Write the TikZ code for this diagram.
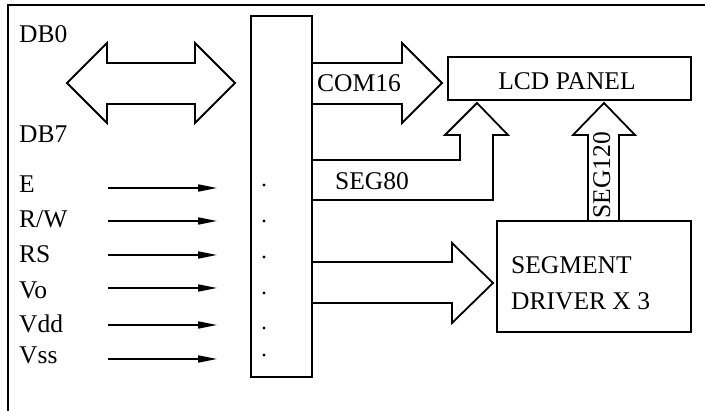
\documentclass[tikz,border=0pt]{standalone}
\usepackage{fontspec}
\setmainfont{Liberation Serif}
\usetikzlibrary{arrows.meta}
\tikzset{
  box/.style={draw, line width=1.8pt, inner sep=0pt},
  bigarrow/.style={draw, line width=1.8pt, line join=miter},
  pinarrow/.style={-{Triangle[length=19pt, width=7pt]}, line width=1.6pt},
  lbl/.style={anchor=base west, inner sep=0pt},
}

\begin{document}
\begin{tikzpicture}[x=1pt, y=-1pt, font=\fontsize{25.5}{36}\selectfont]
  \useasboundingbox (0,0) rectangle (705,411);
  \draw[line width=1.6pt] (8,420) -- (8,5) -- (715,5);

  % blocks
  \node[box, minimum width=61pt, minimum height=361pt] (ctrl) at (281.5,196.5) {};
  \node[box, minimum width=243pt, minimum height=43pt] (lcd) at (569.5,78.5) {};
  \node[lbl, anchor=base] (lcdtxt) at (567,90) {LCD PANEL};
  \node[box, minimum width=194pt, minimum height=111pt] (drv) at (594,276.5) {};
  \node[lbl] (drvA) at (511,274) {SEGMENT};
  \node[lbl] (drvB) at (511,310) {DRIVER X 3};

  % data bus
  \node[lbl] (db0) at (19,43) {DB0};
  \node[lbl] (db7) at (19,143) {DB7};
  \draw[bigarrow] (67,83) -- (107,43) -- (107,63) -- (195,63) -- (195,43)
    -- (235,83) -- (195,123) -- (195,104) -- (107,104) -- (107,123) -- cycle;

  % control inputs
  \foreach \name/\y/\base [count=\i] in {E/188/193, R\slash W/221/228, RS/255/263,
                                         Vo/288/299, Vdd/325/333, Vss/359/364} {
    \node[lbl] (in\i) at (19,\base) {\name};
    \coordinate (a\i) at (108,\y);
    \coordinate (b\i) at (ctrl.west |- 0,\y);
    \draw[pinarrow, shorten >=33pt] (a\i) -- (b\i);
  }
  \foreach \y in {185,221,257,293,328,355}
    \fill (264,\y) circle (1.7pt);

  % COM16
  \draw[bigarrow] (ctrl.east |- 0,63) -- (402,63) -- (402,43) -- (442,83)
    -- (402,123) -- (402,104) -- (ctrl.east |- 0,104);
  \node[lbl] (com) at (317,92) {COM16};

  % SEG80
  \draw[bigarrow] (ctrl.east |- 0,160) -- (460,160) -- (460,135) -- (445,135)
    -- (477,103) -- (508,135) -- (493,135) -- (493,200) -- (ctrl.east |- 0,200);
  \node[lbl] (seg80) at (335,190) {SEG80};

  % SEG120
  \draw[bigarrow] (588,0 |- drv.north) -- (588,135) -- (573,135) -- (604,103)
    -- (635,135) -- (619,135) -- (619,0 |- drv.north);
  \node[inner sep=0pt, anchor=base, rotate=90] (seg120) at (610,175) {SEG120};

  % to segment driver
  \draw[bigarrow] (ctrl.east |- 0,262) -- (452,262) -- (452,243) -- (493,283)
    -- (452,323) -- (452,303) -- (ctrl.east |- 0,303);
\end{tikzpicture}
\end{document}
